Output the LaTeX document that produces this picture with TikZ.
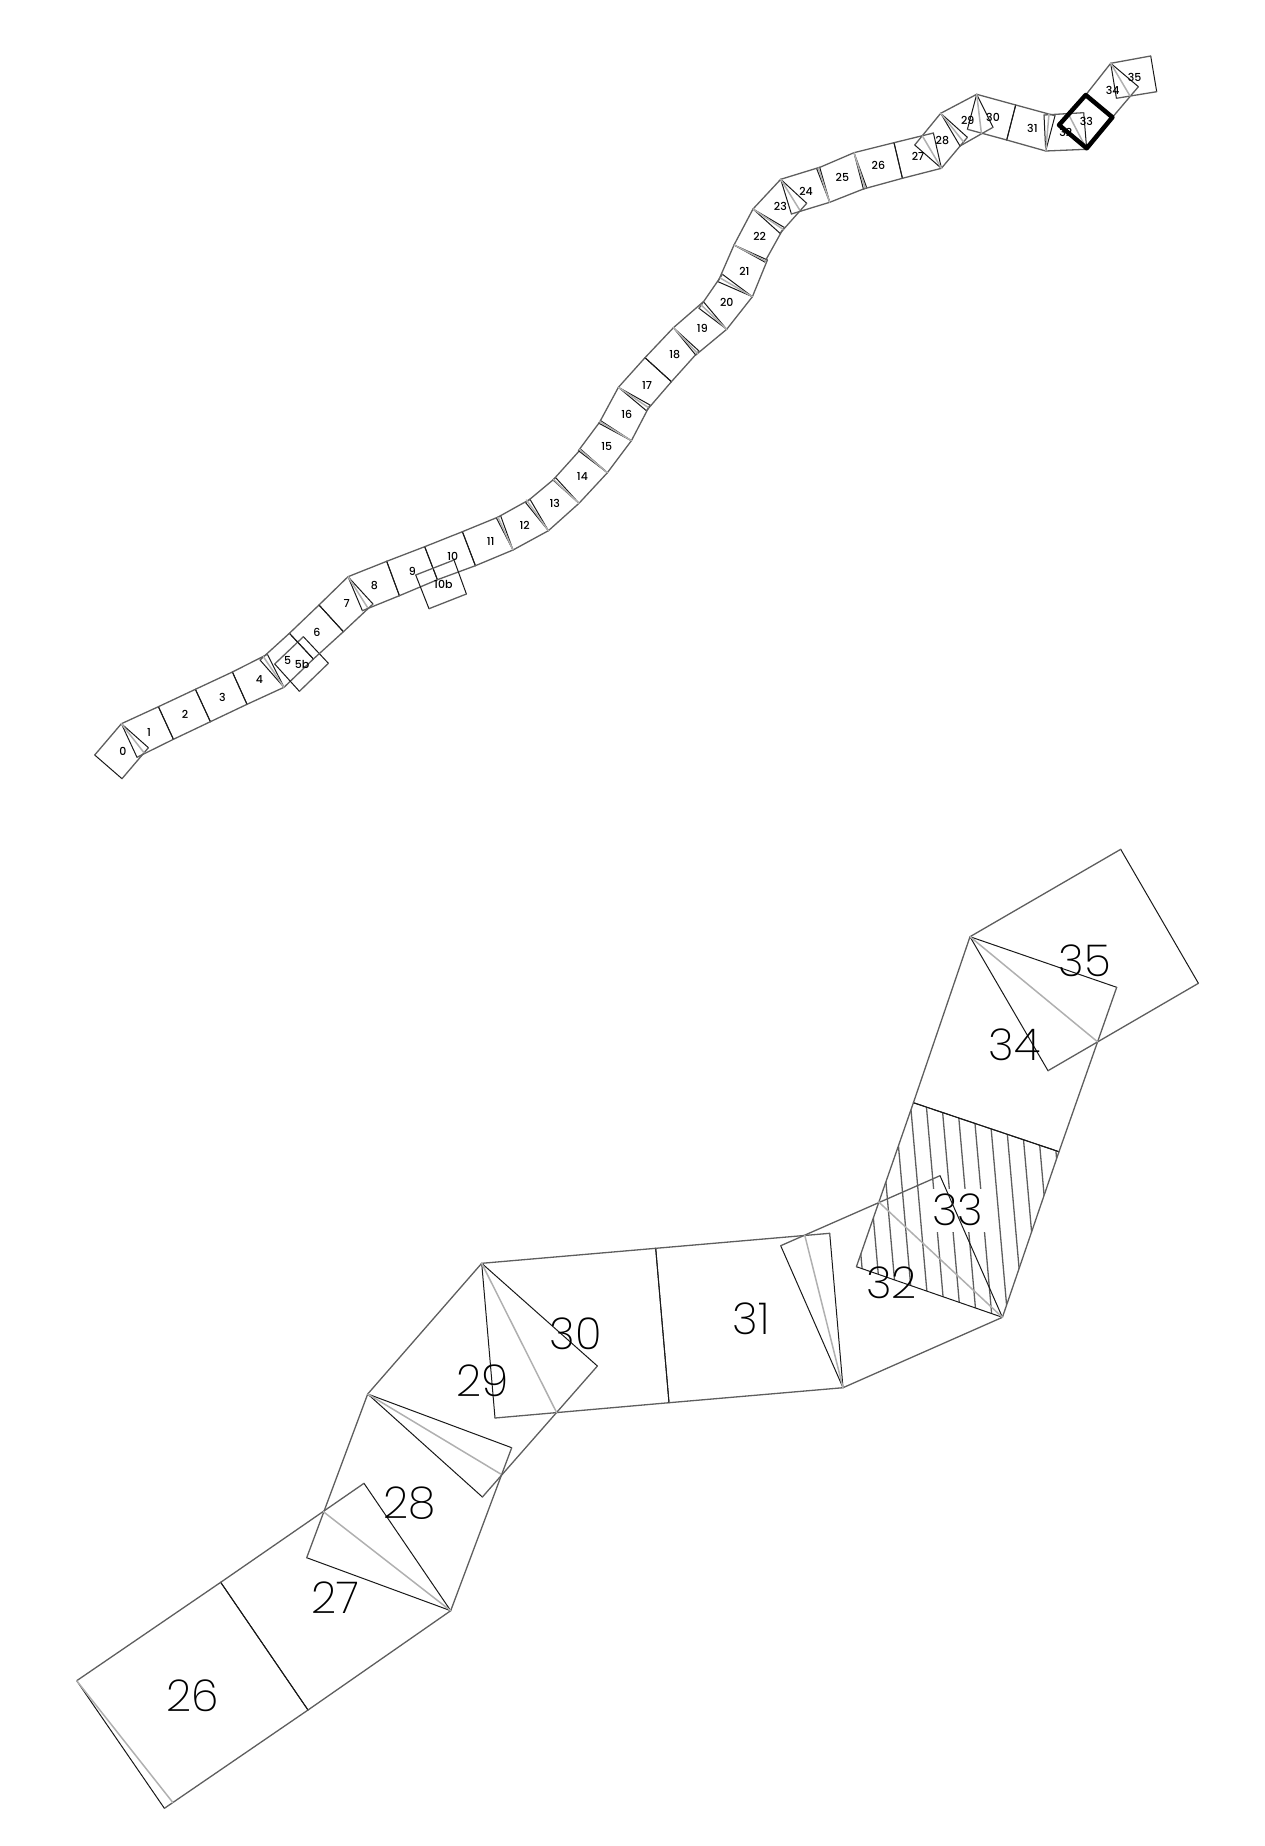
\documentclass[tikz,border=0pt]{standalone}
\usepackage{fontspec}
\setmainfont{Poppins Medium}
\newfontfamily\thinfont{Poppins ExtraLight}
\usetikzlibrary{positioning}
\definecolor{railgray}{HTML}{5E5E5E}
\definecolor{hingegray}{HTML}{B0B0B0}
\tikzset{
  rail/.style={draw=railgray, line width=1.3pt},
  side/.style={draw=black!90, line width=1pt},
  hinge/.style={draw=hingegray, line width=1.5pt},
  hatchline/.style={draw=railgray, line width=1.3pt},
  smallnum/.style={font=\fontsize{11}{12}\selectfont, text=black, inner sep=0pt},
  bignum/.style={font=\thinfont\fontsize{44}{48}\selectfont, text=black, inner sep=0pt},
  current/.style={draw=black, line width=4.5pt}
}
\begin{document}
\begin{tikzpicture}[x=1pt, y=-1pt, line join=round, line cap=round]
  \useasboundingbox (-0.7,0) rectangle (1263.3,1846);
  % hatching of cell 33, below
  \begin{scope}
    \clip (912.7,1102.7)--(1058.3,1151.7)--(1001.7,1317.3)--(855.7,1266.7)--cycle;
    \foreach \k in {-4,...,9}
      \draw[hatchline] ({909+15.7*\k},1095) -- ({930+15.7*\k},1335);
  \end{scope}
  \node[bignum, fill=white, minimum width=56pt, minimum height=43pt] (b33) at (957,1210) {33};
  % strip, then the enlarged part: TL TR BR BL
  \foreach \ax/\ay/\bx/\by/\cx/\cy/\dx/\dy in {
    94/755/120.7/723.7/147.7/747.7/121.3/778.7,
    120.7/723.7/157.7/706.7/172.7/739.3/136.3/757.3,
    157.7/706.7/194.7/689.3/209.7/721.7/172.7/739.3,
    194.7/689.3/231.7/672/246.3/704.3/209.7/721.7,
    231.7/672/266.7/654.3/283.3/687.3/246.3/704.3,
    259.3/660/288.7/633.3/312.7/659/283.3/687.3,
    274/664/302.7/636.7/327.7/663.3/298.7/691.3,
    288.7/633.3/318.3/605/342.7/631.7/312.7/659,
    318.3/605/347.3/576.7/372.3/604/342.7/631.7,
    347.3/576.7/386/561.3/398.7/595.7/361.7/610.7,
    386/561.3/424/546.7/436.7/579.7/398.7/595.7,
    424/546.7/461.7/531.7/474.7/565.7/436.7/579.7,
    415/575/453.3/560/465.7/594/428.3/608.7,
    461.7/531.7/500/516/512.3/550/474.7/565.7,
    495.7/518/529.3/499.3/547.7/530.7/512.3/550,
    525/502.7/555/477.7/578.3/503.3/547.7/530.7,
    552.3/480/580/449.3/606.7/472.7/578.3/503.3,
    577.7/450.7/600/420.7/630.7/440.7/606.7/472.7,
    598.3/423.3/617.7/387.3/649.3/405/630.7/440.7,
    617.7/387.3/644.3/357.7/670.7/381.7/645.7/410.7,
    644.3/357.7/672.7/327.7/698.3/351/670.7/381.7,
    672.7/327.7/702.7/301.7/726/329.3/695/355,
    698.3/308.3/721.7/274.3/751.7/296.7/726/329.3,
    717.3/281.7/733.3/245/766.7/260/751.7/296.7,
    733.3/245/752.3/209/783.3/227.3/764/262,
    752.3/209/780/179.3/806/203.3/779.3/233.3,
    780/179.3/819/167.3/829/202.3/790.7/214,
    816/168.7/853.3/152.7/866/187.7/829/202.3,
    853.3/152.7/893.3/142.7/901.7/178.3/862.7/189,
    893.3/142.7/932.7/133/940.7/168.3/901.7/178.3,
    914/145/940/113.3/966.7/137.3/940.7/168.3,
    940/113.3/976/94.3/992.3/127.3/959.3/146,
    976/94.3/1015/105/1006/140/966.7/129.3,
    1015/105/1054.3/115.7/1045/151/1006/140,
    1043.3/115/1083/112.7/1086/149.3/1045/151,
    1085/95/1110/63.3/1137.7/86.7/1111.7/117.3,
    1110/63.3/1150/56/1156/91.7/1115.7/98.3,
    76/1680.7/220/1582.3/307.3/1710/163.7/1808.3,
    220/1582.3/363.3/1483.3/450/1610.7/307.3/1710,
    306/1557.7/367/1394/511/1447.7/450/1610.7,
    367/1394/481/1263.3/596.7/1366/481.7/1497,
    481/1263.3/655/1248.3/668.3/1402.7/494.3/1418,
    655/1248.3/829/1233.3/842.3/1387.7/668.3/1402.7,
    780/1245.7/939.3/1175.7/1001.7/1317.3/842.3/1387.7,
    855.7/1266.7/912.7/1102.7/1058.3/1151.7/1001.7/1317.3,
    912.7/1102.7/969.3/936.7/1116/987.3/1058.3/1151.7,
    969.3/936.7/1120/849.3/1197.7/983.3/1047.3/1070.7} {
    \draw[side] (\ax,\ay)--(\dx,\dy) (\bx,\by)--(\cx,\cy);
    \draw[rail] (\ax,\ay)--(\bx,\by) (\dx,\dy)--(\cx,\cy);
  }
  % hinges
  \foreach \ax/\ay/\bx/\by in {
    120.7/723.7/143.3/752.7, 283.3/687.3/262.7/656.7, 347.3/576.7/366.7/607.3,
    512.3/550/497.3/517.3, 547.7/530.7/525.7/500, 578.3/503.3/553/479.7,
    606.7/472.7/578.7/449.3, 630.7/440.7/599/421.5, 617.7/387.3/647.3/407.3,
    672.7/327.7/696.7/353.3, 726/329.3/700.5/305, 751.7/296.7/719.5/278,
    733.3/245/765/261, 752.3/209/782.3/229.3, 780/179.3/799/210,
    829/202.3/817.5/168, 853.3/152.7/864.3/187.7, 940.7/168.3/921.7/136,
    940/113.3/962.7/141.7, 976/94.3/980.7/133.3, 1045/151/1048.3/114,
    1086/149.3/1067.3/113.3, 1110/63.3/1129.3/96,
    76/1680.7/172/1802.3, 450/1610.7/322.7/1511.7, 367/1394/500/1474,
    481/1263.3/556/1412.7, 842.3/1387.7/804/1235, 1001.7/1317.3/877.7/1201.7,
    969.3/936.7/1096.7/1041.7}
    \draw[hinge] (\ax,\ay)--(\bx,\by);
  % selected cell
  \draw[current] (1058.3,125)--(1085,95)--(1111.7,117.3)--(1086,148.3)--cycle;
  % labels
  \foreach \lx/\ly/\lab in {
    122.3/751.3/0, 148.3/732.3/1, 184.3/714.3/2, 221.7/697/3, 258.7/679.3/4,
    287/660/5, 301.3/664.3/5b, 316.3/632/6, 346/603.7/7, 373.7/586/8,
    411.7/571/9, 452/556.7/10, 442.7/584.7/10b, 490/541.7/11, 524/525.3/12,
    554/503.7/13, 581.7/476.7/14, 606/446/15, 626/414/16, 646.3/385/17,
    674/355/18, 701.7/328.3/19, 726/302.3/20, 743.7/271/21, 759/236.3/22,
    779.7/206.7/23, 805.3/191/24, 841.7/177.3/25, 877.7/165.7/26, 917.3/156/27,
    941.7/141/28, 967/120.3/29, 992.3/117.7/30, 1031.7/128.3/31, 1065/132.3/32,
    1085.7/121.3/33, 1112/90.3/34, 1134/77.3/35}
    \node[smallnum] (s\lab) at (\lx,\ly) {\lab};
  \foreach \lx/\ly/\lab in {
    191.7/1696/26, 335/1597.3/27, 409/1503.3/28, 481.7/1380.7/29, 575/1333.3/30,
    750.7/1318.3/31, 891/1282.3/32, 1014/1045/34, 1084/960.7/35}
    \node[bignum] (b\lab) at (\lx,\ly) {\lab};
\end{tikzpicture}
\end{document}
